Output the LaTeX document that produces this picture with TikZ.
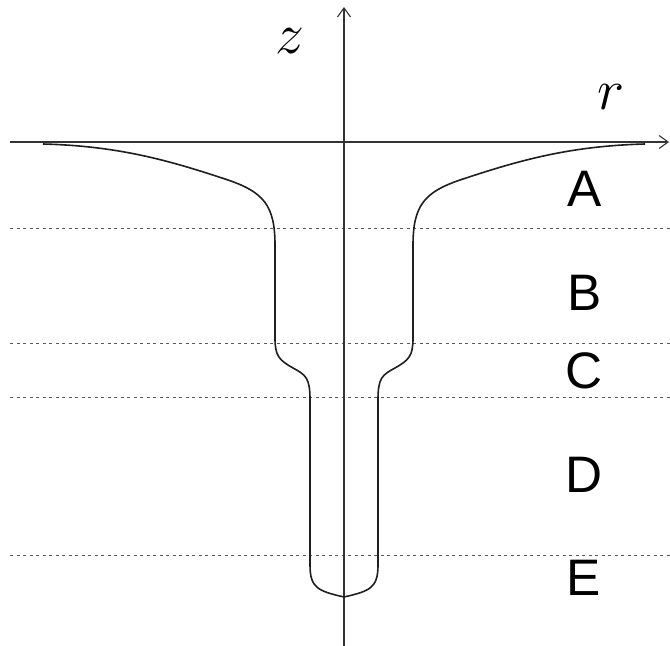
\RequirePackage{fix-cm}
\documentclass[tikz,border=0pt]{standalone}
\usepackage{fontspec}
\setsansfont{Liberation Sans}
\usetikzlibrary{arrows.meta}
\begin{document}
\begin{tikzpicture}[x=1bp,y=-1bp,
  axis/.style={draw=black!80,line width=1.1bp,-{Straight Barb[length=9bp,width=13bp]}},
  level/.style={draw=black!65,line width=1bp,dash pattern=on 3bp off 3.5bp},
  profile/.style={draw=black!88,line width=1.6bp,line join=round},
  zone/.style={inner sep=0pt,font=\sffamily\fontsize{51.5}{55}\selectfont},
  axlab/.style={inner sep=0pt,font=\fontsize{58}{60}\selectfont}]
\useasboundingbox (0,0) rectangle (670,646);
% coordinates
\coordinate (xl) at (10,142);
\coordinate (xr) at (669,142);
\coordinate (zb) at (344,646);
\coordinate (zt) at (344,7);
% dotted levels
\foreach \n/\y in {1/228,2/343,3/397,4/555}{
  \coordinate (l\n a) at (10,\y);
  \coordinate (l\n b) at (670,\y);
  \draw[level] (l\n a) -- (l\n b);
}
% axes
\draw[axis] (xl) -- (xr);
\draw[axis] (zb) -- (zt);
% profile (right half and mirror)
\begin{scope}[shift={(344,0)}]
\foreach \s in {1,-1}{
\draw[profile,xscale=\s] (0,597) .. controls (26,591) and (34,588) .. (34,565)
  -- (34,400) .. controls (34,378) and (38,375) .. (51,368)
  .. controls (65,360) and (69,356) .. (69,338)
  -- (69,245) .. controls (69,205) and (81,192) .. (116,180)
  .. controls (176,160) and (226,146) .. (301,144);
}
\end{scope}
% labels
\node[axlab] (zlab) at (290,41) {$z$};
\node[axlab] (rlab) at (611,97) {$r$};
\node[zone] (A) at (585,189) {A};
\node[zone] (B) at (585,293) {B};
\node[zone] (C) at (584,371) {C};
\node[zone] (D) at (584,475) {D};
\node[zone] (E) at (584,578) {E};
\end{tikzpicture}
\end{document}
